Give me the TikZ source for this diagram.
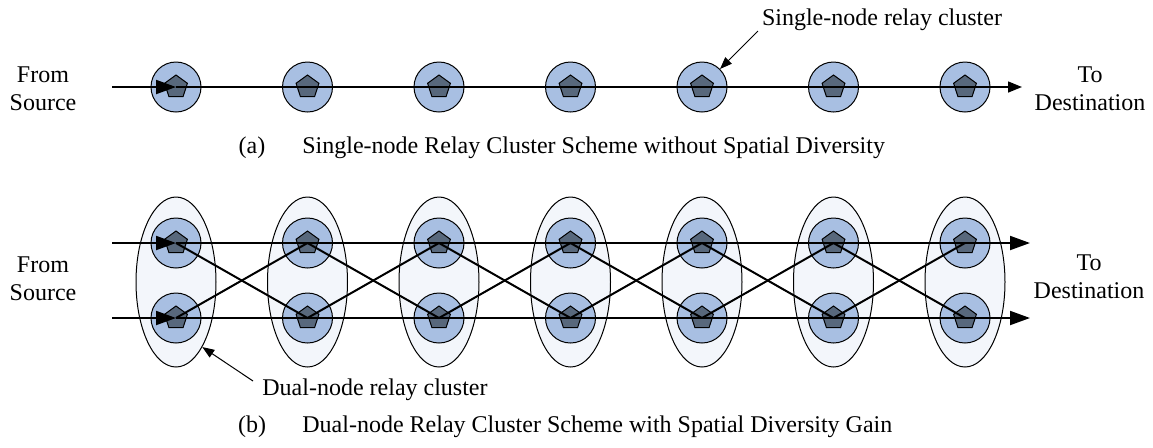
\documentclass[tikz,border=0pt]{standalone}
\usepackage{fontspec}
\setmainfont{Liberation Serif}
\usetikzlibrary{shapes.geometric,arrows.meta}

\definecolor{relayblue}{RGB}{168,191,226}
\definecolor{coregray}{RGB}{88,104,124}
\definecolor{clusterfill}{RGB}{243,246,251}

\tikzset{
	relay/.style={circle,draw,line width=0.5pt,fill=relayblue,minimum size=25pt,inner sep=0pt},
	core/.style={regular polygon,regular polygon sides=5,draw,line width=0.5pt,fill=coregray,minimum size=12pt,inner sep=0pt},
	cluster/.style={ellipse,draw,line width=0.5pt,fill=clusterfill,minimum width=40pt,minimum height=85pt,inner sep=0pt},
	link/.style={line width=1pt},
	flowa/.style={line width=0.75pt,-{Triangle[length=7pt,width=5.5pt]}},
	flowb/.style={line width=1pt,-{Triangle[length=10pt,width=7pt]}},
	note/.style={line width=0.5pt,-{Triangle[length=6pt,width=4.5pt]}},
	lbl/.style={font=\fontsize{12}{14}\selectfont,align=center,inner sep=0pt}
}

\begin{document}
\begin{tikzpicture}[x=0.5pt,y=-0.5pt]
		\useasboundingbox (0,0) rectangle (1153,447);

		% (a) single-node clusters
		\foreach \i in {1,...,7}{
			\node[relay] (a\i)at({176+131.5*(\i-1)},87){};
			\node[core] at(a\i){};
		}
		\coordinate (asrc)at(112,87);
		\coordinate (adst)at(1022,87);
		\draw[flowb] (asrc) -- (a1.center);
		\draw[flowa] (a1.center) -- (adst);

		\node[lbl] (afrom)at(43,89){From\\Source};
		\node[lbl] (ato)at(1090,89){To\\Destination};
		\node[lbl] (atag)at(882,20){Single-node relay cluster};
		\coordinate (anote)at(758,31);
		\draw[note] (anote) -- (a5.north east);

		\node[lbl] (acap)at(252,148){(a)};
		\node[lbl,anchor=west] (atitle)at(302,148){Single-node Relay Cluster Scheme without Spatial Diversity};

		% (b) dual-node clusters
		\foreach \i in {1,...,7}{
			\node[cluster] (c\i)at({176+131.5*(\i-1)},282){};
			\node[relay] (u\i)at({176+131.5*(\i-1)},243){};
			\node[core] at(u\i){};
			\node[relay] (l\i)at({176+131.5*(\i-1)},318){};
			\node[core] at(l\i){};
		}
		\coordinate (usrc)at(112,243);
		\coordinate (lsrc)at(112,318);
		\coordinate (udst)at(1030,243);
		\coordinate (ldst)at(1030,318);
		\draw[flowb] (usrc) -- (u1.center);
		\draw[flowb] (lsrc) -- (l1.center);
		\draw[flowb] (u1.center) -- (udst);
		\draw[flowb] (l1.center) -- (ldst);
		\foreach \i/\j in {1/2,2/3,3/4,4/5,5/6,6/7}{
			\draw[link] (u\i.center) -- (l\j.center);
			\draw[link] (l\i.center) -- (u\j.center);
		}

		\node[lbl] (bfrom)at(43,279){From\\Source};
		\node[lbl] (bto)at(1089,277){To\\Destination};
		\node[lbl] (btag)at(375,390){Dual-node relay cluster};
		\coordinate (bnote)at(253,381);
		\draw[note] (bnote) -- (c1.-68);

		\node[lbl] (bcap)at(252,427){(b)};
		\node[lbl,anchor=west] (btitle)at(302,427){Dual-node Relay Cluster Scheme with Spatial Diversity Gain};
	\end{tikzpicture}
\end{document}
